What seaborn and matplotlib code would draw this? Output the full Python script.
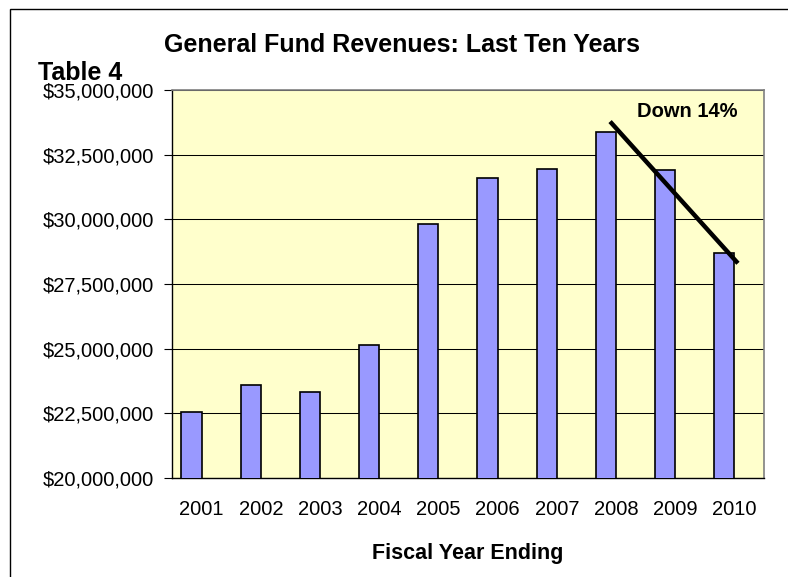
import matplotlib
matplotlib.use("Agg")
import matplotlib.pyplot as plt
import matplotlib.ticker as mticker
from matplotlib.patches import Rectangle
import seaborn as sns

# General fund revenues by fiscal year
years = ["2001", "2002", "2003", "2004", "2005", "2006", "2007", "2008", "2009", "2010"]
revenues = [22.57e6, 23.60e6, 23.34e6, 25.14e6, 29.81e6, 31.58e6, 31.96e6, 33.37e6, 31.90e6, 28.70e6]
y_ticks = [20e6, 22.5e6, 25e6, 27.5e6, 30e6, 32.5e6, 35e6]

sns.set_style("white")
plt.rcParams["font.family"] = ["Liberation Sans", "DejaVu Sans"]
plt.rcParams.update({"text.color": "black", "xtick.color": "black",
                     "ytick.color": "black", "axes.labelcolor": "black"})

W, H = 788, 577
fig = plt.figure(figsize=(W / 100, H / 100), dpi=100)
ax = fig.add_axes([172 / W, 1 - 478 / H, (764 - 172) / W, (478 - 90) / H])
ax.set_facecolor("#FFFFCC")

sns.barplot(x=years, y=revenues, ax=ax, color="#9999FF", saturation=1,
            edgecolor="black", linewidth=1.2, width=0.34, zorder=3)
# bars sit in the left half of each category slot
for p in ax.patches:
    p.set_x(p.get_x() - 0.17)

ax.set_ylim(20e6, 35e6)
ax.set_xlim(-0.5, len(years) - 0.5)
ax.set_yticks(y_ticks)
ax.yaxis.set_major_formatter(mticker.FuncFormatter(lambda v, _: f"${v:,.0f}"))
ax.grid(axis="y", color="black", linewidth=0.75, zorder=1)
ax.set_axisbelow(True)

# category boundary ticks on the x axis
ax.set_xticks([i - 0.5 for i in range(len(years) + 1)], minor=True)
ax.tick_params(axis="x", which="major", length=0, pad=16, labelsize=14.5)
ax.tick_params(axis="x", which="minor", length=5, width=0.8, direction="out", color="black")
ax.tick_params(axis="y", length=6, width=0.8, direction="out", pad=7, labelsize=14.5,
               left=True, color="black")
ax.set_xlabel("")
ax.set_ylabel("")

for side in ("top", "right"):
    ax.spines[side].set_color("#808080")
    ax.spines[side].set_linewidth(1.2)
for side in ("left", "bottom"):
    ax.spines[side].set_color("black")
    ax.spines[side].set_linewidth(1.0)

# decline trend line from 2008 to 2010
ax.plot([6.9, 9.06], [revenues[7] + 0.41e6, revenues[9] - 0.40e6],
        color="black", linewidth=3.2, solid_capstyle="butt", zorder=5, clip_on=False)

fig.text(637 / W, 1 - 117 / H, "Down 14%", fontsize=14.5, fontweight="bold",
         ha="left", va="baseline")
fig.text(401.5 / W, 1 - 52 / H, "General Fund Revenues: Last Ten Years", fontsize=18,
         fontweight="bold", ha="center", va="baseline")
fig.text(38 / W, 1 - 80 / H, "Table 4", fontsize=18, fontweight="bold",
         ha="left", va="baseline")
fig.text(468 / W, 1 - 553 / H, "Fiscal Year Ending", fontsize=15.5, fontweight="bold",
         ha="center", va="center")

# outer chart frame
fig.add_artist(Rectangle((10 / W, -0.1), 1.2, 1 - 9 / H + 0.1, transform=fig.transFigure,
                         fill=False, edgecolor="black", linewidth=1.0))

fig.savefig("out.png", dpi=100)
